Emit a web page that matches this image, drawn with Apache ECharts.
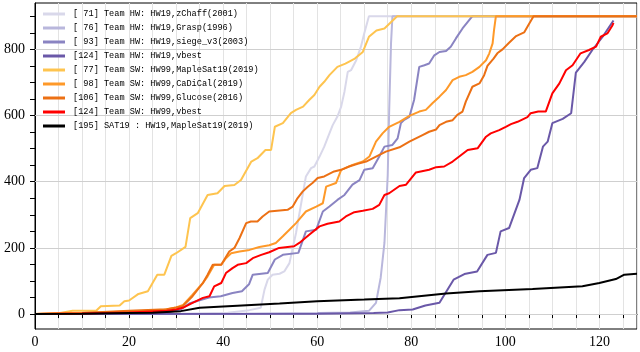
<!DOCTYPE html>
<html>
<head>
<meta charset="utf-8">
<script src="https://cdn.jsdelivr.net/npm/echarts@6.0.0/dist/echarts.min.js"></script>
<style>
  html, body { margin: 0; padding: 0; background: #fff; }
  #main { width: 640px; height: 352px; }
</style>
</head>
<body>
<div id="main"></div>
<script>
// legend names
var names = [
    '[ 71] Team HW: HW19,zChaff(2001)',
    '[ 76] Team HW: HW19,Grasp(1996)',
    '[ 93] Team HW: HW19,siege_v3(2003)',
    '[124] Team HW: HW19,vbest',
    '[ 77] Team SW: HW99,MapleSat19(2019)',
    '[ 98] Team SW: HW99,CaDiCal(2019)',
    '[106] Team SW: HW99,Glucose(2016)',
    '[124] Team SW: HW99,vbest',
    '[195] SAT19 : HW19,MapleSat19(2019)'
];

var colors = ['#d9d8ea', '#b9b7dc', '#8a84c2', '#6a58a8', '#fec44f', '#fe9929', '#ec7014', '#ff0000', '#000000'];

// [solved instances, time]
var zchaff = [[0,0],[30,1],[41,4],[45.6,12],[48,19],[48.8,74],[49.5,104],[50.5,119],[52,122],[53,129],[54.1,154],[55.5,245],[56.6,335],[57.6,416],[58.7,441],[59.4,446],[60.5,476],[61.5,506],[62.6,546],[63.3,571],[64.3,597],[65.1,627],[65.8,672],[66.5,732],[67.2,737],[68.3,767],[69.3,808],[70,848],[71,900],[128,900]];
var grasp = [[0,0],[40,0],[48,2],[60,3],[67,5],[71,10],[72.5,34],[73.5,110],[74.3,215],[75,420],[75.3,610],[75.7,818],[76,900],[128,900]];
var siege = [[0,0],[20,2],[28,5],[31,14],[32.8,32],[35,42],[37,50],[39.5,54],[42,64],[44,69],[45.5,90],[46.3,119],[49.5,124],[51,165],[52.7,179],[56,185],[57.6,250],[59.8,255],[61.2,310],[62.6,325],[64.3,345],[65.8,360],[67.5,391],[69,405],[70,436],[71.8,441],[73.2,476],[74.3,506],[76,511],[77.1,531],[77.8,577],[78.5,587],[79.6,596],[80.6,647],[81.7,747],[82.8,752],[83.8,757],[84.9,782],[86,792],[87.4,795],[88.4,808],[89.5,833],[90.9,863],[93,900],[128,900]];
var hwVbest = [[0,0],[60,1],[72,3],[75,5],[77.5,12],[80.3,14],[83,26],[86,34],[89,104],[91.3,121],[94,129],[96.2,179],[98,185],[99,250],[100.8,260],[103,345],[104,411],[105.4,436],[106.8,441],[108,506],[109,521],[110,577],[112.2,590],[114,607],[115,730],[116.8,762],[118.5,798],[120.7,838],[123,887]];
var maple = [[0,0],[5,3],[8,10],[13,10],[14,24],[18,26],[19,39],[20,41],[22,61],[24,69],[26,119],[27.5,119],[29,176],[30,184],[32,203],[33,290],[34.6,305],[36.7,360],[38.8,365],[40.3,387],[42.4,390],[43.8,405],[46,461],[47.3,471],[49,496],[50.2,496],[51,566],[52.7,577],[54.4,607],[55.5,617],[57,627],[58.3,647],[59.4,662],[60.5,687],[61.5,702],[62.6,722],[64.3,747],[66,757],[68,772],[69.7,792],[71,838],[72.6,857],[74.3,863],[77,900],[128,900]];
var cadical = [[0,0],[10,3],[20,8],[27,12],[30,20],[31.5,28],[33.5,59],[35.7,94],[36.7,114],[38.1,149],[39.6,149],[40.6,169],[41.7,184],[43.5,189],[45.6,194],[47.7,203],[49.8,208],[51.2,215],[52.7,235],[54.1,255],[55.5,275],[57.6,310],[59.8,325],[61.2,335],[61.9,385],[64,396],[65.1,436],[67.5,451],[69.7,461],[71.1,476],[72.5,521],[73.9,546],[75.3,566],[77.5,581],[79.6,599],[81.7,612],[83.1,617],[84.5,637],[86,657],[87.4,677],[88.8,707],[90.2,717],[91.6,722],[93,732],[94.5,747],[95.9,767],[96.6,788],[97.3,818],[97.6,858],[98,900],[128,900]];
var glucose = [[0,0],[10,3],[20,10],[28,15],[30,20],[31.4,24],[33.5,54],[35.7,94],[36.7,119],[37.8,149],[39.6,149],[41.3,189],[42.4,200],[43.5,230],[44.9,275],[45.9,280],[47.3,280],[48.4,295],[49.8,310],[53.7,315],[54.8,325],[55.8,350],[56.9,370],[58,385],[59,396],[60.1,411],[61.5,416],[63.6,431],[65.1,436],[66.8,446],[68.6,454],[70.4,461],[72.5,476],[74.6,491],[77.5,504],[79.6,521],[81,531],[82.4,541],[83.8,551],[85.3,558],[86,571],[87.4,581],[88.8,586],[89.8,602],[90.9,612],[91.6,642],[93,687],[94.5,697],[95.5,722],[96.2,750],[97.5,772],[98.3,788],[99.4,800],[100.8,820],[102.3,840],[104,851],[105.1,878],[106,900],[128,900]];
var swVbest = [[0,0],[10,2],[20,5],[28,10],[30,14],[31.4,19],[33.5,34],[35.7,49],[37.1,54],[38.1,84],[39.6,94],[40.6,124],[42,139],[43.1,149],[44.9,154],[46.3,169],[48.1,179],[49.8,187],[51.9,200],[55.1,205],[56.2,215],[58.3,240],[60.5,265],[62.2,273],[64.7,280],[66.1,295],[67.9,308],[69.7,312],[71.8,318],[73.2,330],[74.3,360],[75.3,365],[77.5,387],[78.9,391],[81,428],[83.8,436],[85.3,444],[87,446],[88.8,461],[90.2,476],[92,496],[94.1,501],[95.9,536],[96.9,546],[98.7,556],[100.1,566],[101.2,574],[102.6,581],[104.7,595],[105.4,607],[107,612],[108.6,612],[110,667],[111.5,697],[112.9,737],[114.3,752],[116,788],[117.8,798],[119.3,808],[120.3,838],[121.7,848],[122.8,873],[123,880]];
var sat19 = [[0,0],[10,1],[20,3],[25,4],[31,9],[35,19],[43,25],[52,32],[60,39],[70,44],[77.5,48],[87.4,62],[94.5,69],[105.8,76],[116.4,84],[120,94],[123.5,106],[125.3,119],[128,122]];

var allData = [zchaff, grasp, siege, hwVbest, maple, cadical, glucose, swVbest, sat19];

// ticks
var yTicks = [0, 50, 100, 150, 200, 250, 300, 350, 400, 450, 500, 550, 600, 650, 700, 750, 800, 850, 900];
var yLabels = [0, 200, 400, 600, 800];
var yGrid = [0, 200, 400, 600, 800];

var myChart = echarts.init(document.getElementById('main'));

var series = [{
    // horizontal grid lines only
    name: 'grid',
    type: 'line',
    data: [],
    silent: true,
    markLine: {
        silent: true,
        z: 1,
        symbol: 'none',
        label: { show: false },
        lineStyle: { color: '#cfcfcf', width: 1, type: 'solid' },
        data: yGrid.map(function (v) { return { yAxis: v }; })
    }
}];

names.forEach(function (n, i) {
    series.push({
        name: n,
        type: 'line',
        data: allData[i],
        showSymbol: false,
        symbol: 'none',
        z: 2 + i * 0.01,
        color: colors[i],
        lineStyle: { color: colors[i], width: 2 }
    });
});

var option = {
    animation: false,
    backgroundColor: '#fff',
    grid: {
        left: 35, right: 3, top: 3, bottom: 23,
        show: true, borderColor: '#000', borderWidth: 1
    },
    legend: {
        orient: 'vertical',
        left: 43,
        top: 8,
        padding: 0,
        itemGap: 2,
        itemWidth: 22,
        itemHeight: 3,
        icon: 'rect',
        data: names,
        textStyle: {
            fontFamily: 'Liberation Mono',
            fontSize: 8.6,
            color: '#000',
            lineHeight: 12,
            padding: [0, 0, 0, 3]
        }
    },
    xAxis: {
        type: 'value',
        min: 0,
        max: 128,
        interval: 5,
        axisLine: { show: true, lineStyle: { color: '#000', width: 1 } },
        axisTick: { show: true, length: 4, lineStyle: { color: '#000' } },
        axisLabel: {
            fontFamily: 'Liberation Serif',
            fontSize: 14,
            color: '#000',
            margin: 6,
            showMaxLabel: false,
            formatter: function (v) { return v % 20 === 0 ? String(v) : ''; }
        },
        splitLine: { show: true, lineStyle: { color: '#e3e3e3', width: 1 } }
    },
    yAxis: {
        type: 'value',
        min: -45,
        max: 940,
        axisLine: { show: true, lineStyle: { color: '#000', width: 1 } },
        axisTick: { show: true, length: 5, customValues: yTicks, lineStyle: { color: '#000' } },
        axisLabel: {
            customValues: yLabels,
            fontFamily: 'Liberation Serif',
            fontSize: 14,
            color: '#000',
            margin: 10
        },
        splitLine: { show: false }
    },
    series: series
};

myChart.setOption(option);
</script>
</body>
</html>
